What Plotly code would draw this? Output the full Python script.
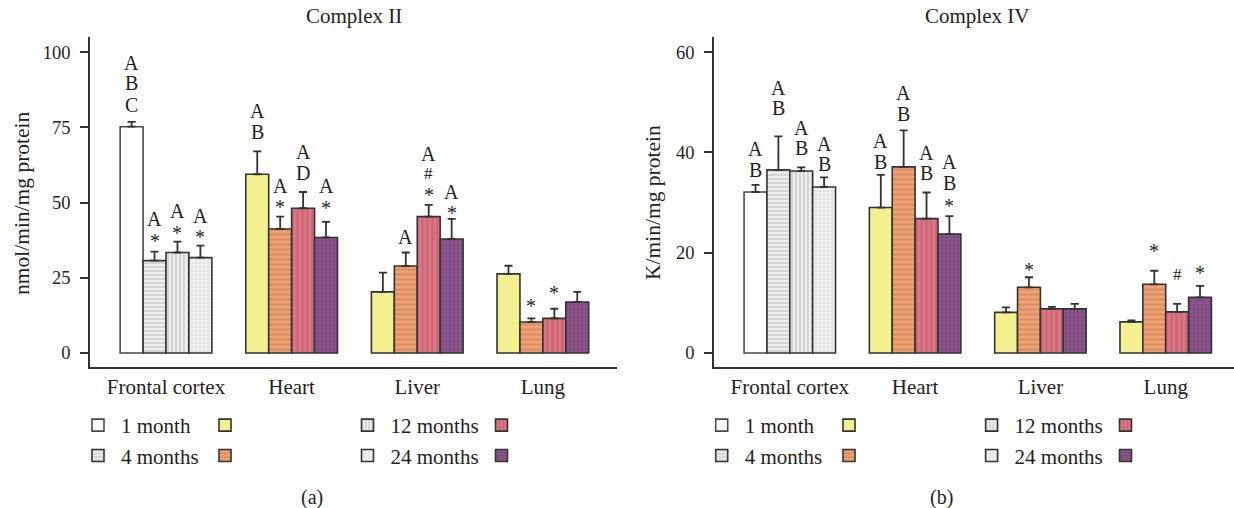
import plotly.graph_objects as go

# ---------------- data ----------------
categories = ["Frontal cortex", "Heart", "Liver", "Lung"]
ages = ["1 month", "4 months", "12 months", "24 months"]

# Complex II (nmol/min/mg protein)
c2_1m = [75.2, 59.4, 20.3, 26.3]
c2_4m = [30.7, 41.2, 28.9, 10.3]
c2_12m = [33.4, 48.1, 45.3, 11.5]
c2_24m = [31.7, 38.4, 37.9, 16.9]
c2_1m_err = [1.6, 7.6, 6.4, 2.7]
c2_4m_err = [3.0, 4.1, 4.5, 1.2]
c2_12m_err = [3.6, 5.4, 3.9, 3.2]
c2_24m_err = [4.0, 5.2, 6.7, 3.4]

# Complex IV (K/min/mg protein)
c4_1m = [32.1, 29.0, 8.1, 6.2]
c4_4m = [36.5, 37.1, 13.1, 13.7]
c4_12m = [36.3, 26.8, 8.8, 8.2]
c4_24m = [33.1, 23.7, 8.8, 11.1]
c4_1m_err = [1.4, 6.5, 1.0, 0.3]
c4_4m_err = [6.7, 7.3, 2.0, 2.7]
c4_12m_err = [0.7, 5.2, 0.4, 1.6]
c4_24m_err = [1.9, 3.6, 1.0, 2.3]

# significance labels: (category index, age index, text, label y in data units)
c2_labels = [
    (0, 0, "A", 96.3), (0, 0, "B", 89.7), (0, 0, "C", 82.4),
    (0, 1, "A", 44.5), (0, 1, "*", 38.5),
    (0, 2, "A", 47.2), (0, 2, "*", 41.2),
    (0, 3, "A", 45.5), (0, 3, "*", 39.9),
    (1, 0, "A", 80.4), (1, 0, "B", 73.4),
    (1, 1, "A", 55.5), (1, 1, "*", 49.8),
    (1, 2, "A", 66.8), (1, 2, "D", 59.8),
    (1, 3, "A", 55.5), (1, 3, "*", 49.5),
    (2, 1, "A", 38.5),
    (2, 2, "A", 66.0), (2, 2, "#", 59.8), (2, 2, "*", 53.8),
    (2, 3, "A", 53.5), (2, 3, "*", 47.8),
    (3, 1, "*", 16.9),
    (3, 2, "*", 21.3),
]
c4_labels = [
    (0, 0, "A", 40.7), (0, 0, "B", 36.5),
    (0, 1, "A", 52.8), (0, 1, "B", 48.8),
    (0, 2, "A", 44.8), (0, 2, "B", 40.9),
    (0, 3, "A", 41.7), (0, 3, "B", 37.7),
    (1, 0, "A", 42.3), (1, 0, "B", 38.1),
    (1, 1, "A", 51.8), (1, 1, "B", 47.6),
    (1, 2, "A", 39.9), (1, 2, "B", 35.9),
    (1, 3, "A", 38.1), (1, 3, "B", 33.9), (1, 3, "*", 30.1),
    (2, 1, "*", 17.3),
    (3, 1, "*", 21.1),
    (3, 2, "#", 15.7),
    (3, 3, "*", 16.7),
]

# ---------------- styles ----------------
FONT = "Liberation Serif"
INK = "#231f20"
OUTLINE = "#333333"

grey_styles = [
    dict(color="#ffffff", pattern=dict(shape="")),
    dict(color="#eeeeee", pattern=dict(shape="-", fgcolor="#b4b4b4", bgcolor="#eeeeee", size=4, solidity=0.45)),
    dict(color="#eeeeee", pattern=dict(shape="|", fgcolor="#b4b4b4", bgcolor="#eeeeee", size=4, solidity=0.45)),
    dict(color="#f2f2f2", pattern=dict(shape="+", fgcolor="#b8b8b8", bgcolor="#f4f4f4", size=4, solidity=0.3)),
]
color_styles = [
    dict(color="#f3f08f", pattern=dict(shape="")),
    dict(color="#f0a271", pattern=dict(shape="-", fgcolor="#c27d5c", bgcolor="#f0a271", size=5, solidity=0.45)),
    dict(color="#dc7584", pattern=dict(shape="|", fgcolor="#b25566", bgcolor="#dc7584", size=5, solidity=0.4)),
    dict(color="#8a548c", pattern=dict(shape="+", fgcolor="#a97ba9", bgcolor="#80497f", size=4, solidity=0.3)),
]

BARGAP = 0.27
slot = (1 - BARGAP) / 4

fig = go.Figure()

panels = [
    dict(xa="x", ya="y",
         means=[c2_1m, c2_4m, c2_12m, c2_24m],
         errs=[c2_1m_err, c2_4m_err, c2_12m_err, c2_24m_err],
         labels=c2_labels, legends=["legend", "legend2", "legend3", "legend4"]),
    dict(xa="x2", ya="y2",
         means=[c4_1m, c4_4m, c4_12m, c4_24m],
         errs=[c4_1m_err, c4_4m_err, c4_12m_err, c4_24m_err],
         labels=c4_labels, legends=["legend5", "legend6", "legend7", "legend8"]),
]

for p in panels:
    for i, age in enumerate(ages):
        m = p["means"][i]
        e = p["errs"][i]
        col = 0 if i < 2 else 2
        gleg = p["legends"][col]
        cleg = p["legends"][col + 1]
        gs = grey_styles[i]
        cs = color_styles[i]
        common = dict(xaxis=p["xa"], yaxis=p["ya"], offsetgroup=str(i), hoverinfo="skip")
        fig.add_trace(go.Bar(
            x=categories[:1], y=m[:1], name=age, legend=gleg, legendrank=i,
            marker=dict(color=gs["color"], pattern=gs["pattern"],
                        line=dict(color="#4a4a4a" if i == 0 else OUTLINE, width=1.6)),
            error_y=dict(type="data", array=e[:1], arrayminus=[0], symmetric=False,
                         color=OUTLINE, thickness=1.8, width=4),
            **common))
        fig.add_trace(go.Bar(
            x=categories[1:], y=m[1:], name=" ", legend=cleg, legendrank=i,
            marker=dict(color=cs["color"], pattern=cs["pattern"],
                        line=dict(color=OUTLINE, width=1.6)),
            error_y=dict(type="data", array=e[1:], arrayminus=[0] * 3, symmetric=False,
                         color=OUTLINE, thickness=1.8, width=4),
            **common))
    for (ci, ai, txt, yv) in p["labels"]:
        fig.add_annotation(
            x=ci + (ai - 1.5) * slot, y=yv, xref=p["xa"], yref=p["ya"],
            text=txt, showarrow=False, yanchor="middle", xanchor="center",
            yshift=-4 if txt == "*" else 0,
            font=dict(family=FONT, size=17 if txt == "#" else 20, color=INK))

W, H = 1234, 508
ydom = [(H - 367) / H, (H - 37) / H]
axis_common = dict(showline=True, linecolor=OUTLINE, linewidth=1.6, showgrid=False,
                   zeroline=False, ticks="", mirror=False)
yaxis_common = dict(showline=True, linecolor=OUTLINE, linewidth=1.6, showgrid=False,
                    zeroline=False, ticks="outside", ticklen=8, tickwidth=1.5,
                    tickcolor=OUTLINE, ticklabelstandoff=6,
                    tickfont=dict(family=FONT, size=18.5, color=INK))

fig.update_layout(
    width=W, height=H,
    margin=dict(l=0, r=0, t=0, b=0, autoexpand=False),
    paper_bgcolor="white", plot_bgcolor="white",
    barmode="group", bargap=BARGAP, bargroupgap=0,
    font=dict(family=FONT, size=19, color=INK),
    xaxis=dict(domain=[90 / W, 617 / W], range=[-0.605, 3.59], anchor="y",
               tickfont=dict(family=FONT, size=21, color=INK), ticklabelstandoff=0,
               **axis_common),
    yaxis=dict(domain=ydom, range=[-4.65, 105], anchor="x",
               tickvals=[0, 25, 50, 75, 100], **yaxis_common),
    xaxis2=dict(domain=[714 / W, 1.0], range=[-0.605, 3.545], anchor="y2",
                tickfont=dict(family=FONT, size=21, color=INK), ticklabelstandoff=0,
                **axis_common),
    yaxis2=dict(domain=ydom, range=[-2.79, 63.0], anchor="x2",
                tickvals=[0, 20, 40, 60], **yaxis_common),
)

# titles and panel tags
fig.add_annotation(text="Complex II", x=353.5 / W, y=(H - 16) / H, xref="paper", yref="paper",
                   xanchor="center", yanchor="middle",
                   showarrow=False, font=dict(family=FONT, size=21, color=INK))
fig.add_annotation(text="Complex IV", x=977 / W, y=(H - 16) / H, xref="paper", yref="paper",
                   xanchor="center", yanchor="middle",
                   showarrow=False, font=dict(family=FONT, size=21, color=INK))
fig.add_annotation(text="nmol/min/mg protein", x=22 / W, y=(H - 203) / H, xref="paper", yref="paper",
                   xanchor="center", yanchor="middle",
                   textangle=-90, showarrow=False, font=dict(family=FONT, size=21.5, color=INK))
fig.add_annotation(text="K/min/mg protein", x=653 / W, y=(H - 203) / H, xref="paper", yref="paper",
                   xanchor="center", yanchor="middle",
                   textangle=-90, showarrow=False, font=dict(family=FONT, size=21.5, color=INK))
fig.add_annotation(text="(a)", x=312 / W, y=(H - 497) / H, xref="paper", yref="paper",
                   xanchor="center", yanchor="middle",
                   showarrow=False, font=dict(family=FONT, size=20, color=INK))
fig.add_annotation(text="(b)", x=941 / W, y=(H - 497) / H, xref="paper", yref="paper",
                   xanchor="center", yanchor="middle",
                   showarrow=False, font=dict(family=FONT, size=20, color=INK))

# legends: grey swatch + label, coloured swatch
swatch_centres = [98, 225, 367.5, 501.5, 721.7, 849, 991.6, 1125.5]
leg_names = ["legend", "legend2", "legend3", "legend4", "legend5", "legend6", "legend7", "legend8"]
for k, (name, cx) in enumerate(zip(leg_names, swatch_centres)):
    labelled = (k % 2 == 0)
    iw = 36 if labelled else 30
    off = 23 if labelled else 20
    fig.update_layout({name: dict(
        x=(cx - off) / W, xanchor="left", y=(H - 405) / H, yanchor="top",
        orientation="v", bgcolor="rgba(0,0,0,0)", borderwidth=0, itemwidth=iw,
        font=dict(family=FONT, size=21, color=INK), tracegroupgap=0,
        itemclick=False, itemdoubleclick=False)})

fig.write_html(
    "out.html",
    config={"displayModeBar": False},
    post_script="document.body.style.margin='0';document.body.style.overflow='hidden';",
)
